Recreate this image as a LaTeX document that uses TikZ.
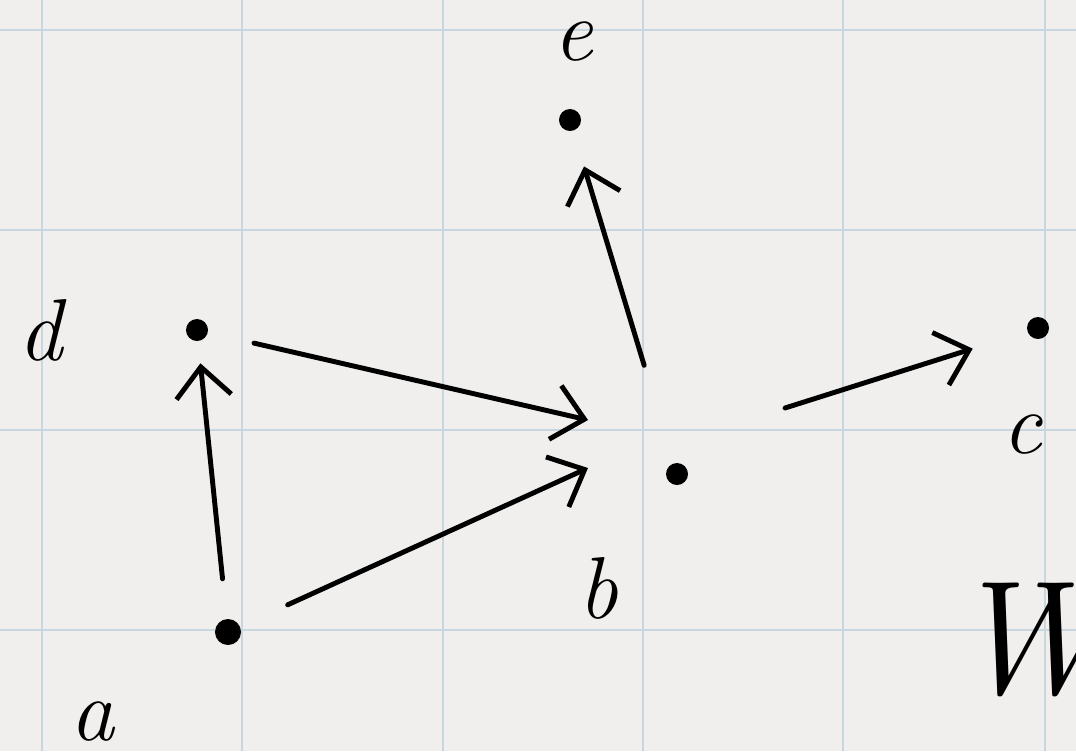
\documentclass[tikz,border=0pt]{standalone}
\usepackage{tikz}
\usetikzlibrary{arrows.meta, positioning, calc}

\definecolor{paper}{RGB}{241,239,237}
\definecolor{gridblue}{RGB}{200,214,224}

\begin{document}
\begin{tikzpicture}[x=0.01cm, y=-0.01cm, line width=1.4pt,
  vertex/.style={circle, fill=black, inner sep=0pt, minimum size=0.22cm},
  lbl/.style={font=\fontsize{25}{27}\selectfont\itshape, inner sep=0pt},
  edge/.style={-{Straight Barb[length=3mm, width=5.5mm]}, line cap=round}]

% paper and grid
\fill[paper] (0,0) rectangle (1076,751);
\useasboundingbox (0,0) rectangle (1076,751);
\foreach \gx in {42,242,443,643,843,1045}
  \draw[gridblue, line width=0.6pt] (\gx,0) -- (\gx,751);
\foreach \gy in {30,230,430,630}
  \draw[gridblue, line width=0.6pt] (0,\gy) -- (1076,\gy);

% vertices
\node[vertex] (e) at (570,120) {};
\node[vertex] (d) at (197,330) {};
\node[vertex] (b) at (677,474) {};
\node[vertex] (c) at (1038,328) {};
\node[vertex, minimum size=0.26cm] (a) at (228,632) {};

% labels
\node[lbl] (le) at (573,42) {e};
\node[lbl] (ld) at (40,330) {d};
\node[lbl] (lc) at (1022,435) {c};
\node[lbl] (lb) at (598,588) {b};
\node[lbl] (la) at (92,722) {a};
\node[font=\fontsize{46}{48}\selectfont\itshape, anchor=west] (w) at (935,640) {W};

% free ends near b
\coordinate (db tip) at (588,420);
\coordinate (ab tip) at (588,468);
\coordinate (bc tail) at (785,408);

\draw[edge, shorten <=0.38cm, shorten >=0.2cm] (a) -- (d);
\draw[edge, shorten <=0.45cm] (d) -- (db tip);
\draw[edge, shorten <=0.5cm] (a) -- (ab tip);
\draw[edge, shorten <=1.0cm, shorten >=0.35cm] (b) -- (e);
\draw[edge, shorten >=0.55cm] (bc tail) -- (c);

\end{tikzpicture}
\end{document}
